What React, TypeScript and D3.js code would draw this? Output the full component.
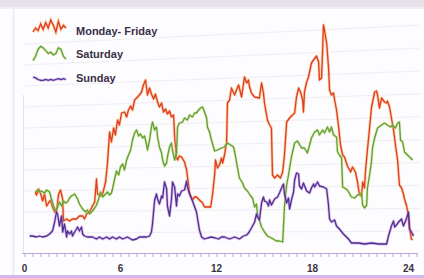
import React, { useEffect, useRef } from 'react';
import * as d3 from 'd3';

// [minutes after midnight, load]
const monFri: [number, number][] = [
  [41, 30.5], [45, 29], [53, 32], [60, 30], [68, 26], [75, 29.5], [83, 23.5], [90, 25], [98, 26.5], [105, 23],
  [113, 20.5], [120, 20.5], [128, 29.5], [135, 31.5], [143, 27], [146, 16], [158, 17], [169, 16], [180, 17], [195, 17],
  [206, 18.5], [218, 18.5], [225, 17], [233, 19.5], [244, 20.5], [255, 23.5], [263, 25.5], [270, 37], [274, 29.5], [285, 28.5],
  [293, 29.5], [304, 35.5], [311, 44.5], [319, 60.5], [326, 55.5], [334, 62.5], [341, 59], [349, 66.5], [356, 64], [364, 70],
  [375, 70.5], [383, 68], [390, 71.5], [398, 73.5], [405, 71.5], [413, 76.5], [424, 78], [431, 79], [439, 80.5], [446, 84],
  [454, 86.5], [461, 79], [469, 82.5], [476, 79.5], [484, 77], [491, 79.5], [499, 75.5], [506, 73], [514, 75], [521, 70.5],
  [529, 72], [536, 69.5], [544, 71], [551, 68], [559, 69], [563, 58], [570, 48], [574, 46.5], [581, 48.5], [589, 48],
  [600, 45.5], [608, 41.5], [619, 30], [630, 26.5], [638, 28], [645, 28], [656, 26.5], [668, 25], [675, 23], [686, 23],
  [698, 23], [705, 29], [713, 39], [716, 46.5], [724, 42.5], [731, 44], [739, 47.5], [743, 45], [750, 49], [758, 55.5],
  [761, 75], [769, 76.5], [776, 82.5], [788, 79], [795, 81.5], [803, 84], [814, 78], [825, 88], [833, 85], [840, 86.5],
  [844, 83], [851, 80], [863, 78], [881, 77.5], [889, 85], [896, 80], [900, 75], [911, 66.5], [919, 64], [926, 62.5],
  [930, 39], [938, 37.5], [949, 39], [960, 37.5], [968, 40.5], [975, 49], [983, 65.5], [994, 67.5], [1005, 69], [1013, 70],
  [1020, 78], [1028, 82.5], [1035, 80.5], [1043, 76.5], [1046, 70.5], [1050, 80.5], [1058, 85.5], [1065, 88], [1076, 95], [1084, 96.5],
  [1095, 98.5], [1103, 95.5], [1106, 86.5], [1114, 87.5], [1118, 101.5], [1121, 114], [1125, 111.5], [1133, 105], [1140, 93], [1144, 81.5],
  [1151, 79], [1159, 80], [1163, 76.5], [1170, 71.5], [1178, 63], [1185, 54], [1193, 49], [1200, 48], [1211, 43.5], [1223, 40.5],
  [1230, 43], [1241, 40.5], [1249, 35.5], [1256, 29], [1264, 28.5], [1268, 35.5], [1275, 32.5], [1279, 41.5], [1286, 51.5], [1294, 62.5],
  [1301, 72.5], [1313, 80.5], [1320, 81], [1324, 79], [1331, 72.5], [1339, 77.5], [1350, 75.5], [1358, 75], [1361, 76], [1369, 73],
  [1376, 67.5], [1384, 61.5], [1391, 54], [1399, 46.5], [1406, 34], [1414, 32.5], [1421, 29.5], [1425, 27], [1433, 23.5], [1440, 18.5],
  [1444, 12], [1451, 7], [1455, 6.5],
];

const saturday: [number, number][] = [
  [41, 30.5], [49, 31.5], [56, 30.5], [64, 31], [75, 30], [83, 31.5], [94, 30.5], [101, 27], [109, 23.5], [116, 21],
  [124, 23], [131, 25.5], [139, 23.5], [146, 26], [154, 25], [161, 25.5], [169, 27.5], [176, 28.5], [188, 29.5], [199, 27],
  [206, 24.5], [218, 22], [229, 20.5], [236, 21.5], [244, 19.5], [255, 21], [263, 22.5], [270, 24], [278, 27], [285, 30.5],
  [293, 28], [304, 29.5], [311, 30.5], [319, 29], [326, 30], [330, 32], [338, 37], [345, 41], [353, 39], [360, 43],
  [368, 44.5], [375, 41.5], [383, 46.5], [390, 49], [398, 51.5], [405, 56.5], [413, 60], [420, 61.5], [428, 58.5], [435, 59.5],
  [443, 57.5], [450, 58.5], [458, 54], [461, 51.5], [469, 56.5], [476, 63], [480, 65.5], [488, 61.5], [495, 63], [499, 58],
  [506, 53], [514, 50], [518, 46.5], [525, 43.5], [533, 45], [536, 48], [544, 53], [551, 55], [555, 51.5], [563, 46.5],
  [570, 50], [574, 63], [581, 65], [593, 65.5], [600, 67.5], [611, 66.5], [619, 69], [630, 68], [638, 70], [645, 70],
  [653, 71.5], [660, 72.5], [668, 73], [675, 70.5], [683, 67.5], [686, 63], [694, 60.5], [701, 56.5], [713, 51], [724, 51.5],
  [739, 52.5], [750, 53], [761, 55], [773, 54], [784, 53], [791, 48.5], [799, 42.5], [806, 37.5], [818, 35], [825, 32.5],
  [836, 31], [848, 28.5], [855, 27.5], [863, 23], [870, 24.5], [874, 19], [881, 16.5], [889, 13], [900, 10.5], [911, 8.5],
  [926, 7.5], [945, 6], [956, 6], [968, 5.5], [971, 12.5], [975, 23.5], [983, 34], [990, 39], [1001, 48], [1013, 55],
  [1024, 56], [1039, 52.5], [1050, 52.5], [1061, 50], [1069, 54], [1076, 57.5], [1088, 60.5], [1099, 61.5], [1106, 59], [1118, 61.5],
  [1125, 60], [1136, 63], [1144, 60.5], [1151, 63], [1159, 59], [1170, 58], [1174, 50.5], [1181, 49], [1189, 47.5], [1193, 33],
  [1200, 32.5], [1211, 31.5], [1226, 28], [1238, 27.5], [1249, 29], [1264, 30], [1268, 24], [1275, 22.5], [1283, 24], [1286, 32.5],
  [1294, 39], [1301, 45.5], [1305, 52.5], [1313, 57.5], [1324, 62.5], [1339, 64], [1350, 65], [1361, 64], [1373, 63], [1380, 64],
  [1391, 62.5], [1399, 65], [1406, 65.5], [1410, 56.5], [1418, 55.5], [1425, 50.5], [1436, 49], [1448, 47.5], [1455, 46.5],
];

const sunday: [number, number][] = [
  [19, 8.5], [30, 8.5], [45, 8], [56, 8.5], [68, 8], [83, 8.5], [94, 9.5], [105, 11], [113, 15.5], [120, 20.5],
  [124, 19.5], [131, 13.5], [139, 18.5], [143, 10.5], [150, 14.5], [158, 8], [161, 11], [169, 9.5], [176, 11], [180, 8.5],
  [188, 10.5], [195, 12], [199, 13], [206, 11], [214, 13], [218, 9.5], [225, 8.5], [236, 8], [255, 8], [270, 7],
  [281, 8], [293, 7], [308, 8], [319, 7], [330, 8], [345, 7], [356, 8], [368, 7], [386, 8], [405, 6.5],
  [420, 7], [431, 8], [443, 8], [458, 8], [469, 8.5], [476, 10.5], [480, 14.5], [488, 26.5], [495, 29.5], [499, 27],
  [506, 24.5], [514, 28.5], [518, 27.5], [525, 35.5], [533, 32], [536, 23.5], [544, 18.5], [551, 26.5], [555, 35.5], [563, 33],
  [570, 23.5], [574, 29.5], [581, 28.5], [589, 31], [600, 31.5], [608, 36], [611, 33], [619, 29.5], [630, 26], [645, 20.5],
  [656, 11.5], [664, 8], [675, 7], [686, 7.5], [701, 8], [716, 7.5], [728, 7], [739, 8], [750, 8], [769, 7],
  [788, 8], [806, 7], [821, 8.5], [833, 9], [840, 10], [851, 12.5], [863, 15.5], [870, 19.5], [874, 18], [881, 16.5],
  [889, 25], [896, 28], [900, 26], [908, 25.5], [915, 23.5], [919, 26.5], [926, 24], [938, 27], [949, 28], [956, 30],
  [964, 32.5], [971, 34.5], [975, 29.5], [983, 25], [990, 27.5], [994, 22], [1001, 26.5], [1009, 30.5], [1013, 36.5], [1020, 40],
  [1028, 39.5], [1031, 33.5], [1039, 32], [1046, 35], [1058, 31], [1069, 30], [1076, 32.5], [1084, 34.5], [1088, 33], [1099, 35.5],
  [1106, 33.5], [1121, 33], [1133, 32], [1140, 24], [1144, 17], [1151, 15.5], [1163, 16.5], [1170, 13.5], [1181, 12], [1196, 9.5],
  [1215, 7], [1226, 5], [1253, 5], [1275, 4.5], [1301, 5], [1328, 4.5], [1346, 4.5], [1358, 4.5], [1365, 8.5], [1376, 13.5],
  [1384, 16], [1388, 13], [1395, 14], [1403, 15.5], [1414, 17], [1421, 13.5], [1429, 16], [1433, 17.5], [1440, 20.5], [1444, 12],
  [1451, 10.5], [1459, 8.5],
];

const seriesNames = ['Monday- Friday', 'Saturday', 'Sunday'];
const seriesColors = ['#df3a28', '#5e9e38', '#4a3192'];
const haloColors = ['#f7a63c', '#c4dc6e', '#c47ad8'];

// legend glyphs: small squiggles, [step, level]
const legendGlyphs: [number, number][][] = [
  [[0, 3], [1, 6], [2, 4], [3, 9], [4, 5], [5, 10], [6, 6], [7, 12], [8, 8], [9, 3], [10, 11], [11, 5], [12, 8], [13, 6]],
  [[0, 1], [1, 4], [2, 9], [3, 11], [4, 10], [5, 8], [6, 6], [7, 7], [8, 5], [9, 6], [10, 10], [11, 9], [12, 4], [13, 2]],
  [[0, 6], [1, 5], [2, 3], [3, 2], [4, 2], [5, 3], [6, 2], [7, 3], [8, 2], [9, 3], [10, 4], [11, 3], [12, 4], [13, 3]],
];

const hourLabels = [0, 6, 12, 18, 24];

const W = 424;
const H = 278;

const App: React.FC = () => {
  const ref = useRef<SVGSVGElement>(null);

  useEffect(() => {
    const svg = d3.select(ref.current);
    svg.selectAll('*').remove();

    const x = d3.scaleLinear().domain([0, 1440]).range([24.5, 408.5]);
    const y = d3.scaleLinear().domain([0, 115]).range([253, 23]);

    // paper
    svg.append('rect').attr('width', W).attr('height', H).attr('fill', '#fdfcfe');
    svg.append('rect').attr('width', W).attr('height', 7).attr('fill', '#e4e1e8');
    svg.append('rect').attr('y', 7).attr('width', W).attr('height', 2).attr('fill', '#f0eef3');
    svg.append('line').attr('x1', 13.5).attr('x2', 13.5).attr('y1', 9).attr('y2', H)
      .attr('stroke', '#e9e6ed').attr('stroke-width', 1.5);
    svg.append('rect').attr('y', 275).attr('width', W).attr('height', 3).attr('fill', '#d2b7ee');

    // faint gridlines, slightly rising to the right like the scan
    const grid = d3.range(10, 110, 10.5);
    svg.append('g').selectAll('line').data(grid).enter().append('line')
      .attr('x1', 24).attr('x2', 420)
      .attr('y1', d => y(d))
      .attr('y2', d => y(d) - (253 - y(d)) * 0.09)
      .attr('stroke', '#f0eef4').attr('stroke-width', 1);

    svg.append('line').attr('x1', 23.5).attr('x2', 23.5).attr('y1', 95).attr('y2', 253)
      .attr('stroke', '#e6dfee').attr('stroke-width', 1);

    // lines
    const line = d3.line<[number, number]>().x(d => x(d[0])).y(d => y(d[1]));
    [monFri, saturday, sunday].forEach((s, i) => {
      svg.append('path').datum(s).attr('d', line).attr('fill', 'none')
        .attr('stroke', haloColors[i]).attr('stroke-width', 2.8).attr('stroke-opacity', 0.5)
        .attr('stroke-linejoin', 'round');
      svg.append('path').datum(s).attr('d', line).attr('fill', 'none')
        .attr('stroke', seriesColors[i]).attr('stroke-width', 1.3)
        .attr('stroke-linejoin', 'round');
    });

    // x axis
    const axis = d3.axisBottom(x)
      .tickValues(d3.range(0, 1471, 30))
      .tickSize(4)
      .tickSizeOuter(0)
      .tickFormat(() => '');
    const gx = svg.append('g').attr('transform', 'translate(0,253)').call(axis);
    gx.select('.domain').remove();
    gx.selectAll('.tick line').attr('stroke', '#b9a5d8');
    svg.append('line').attr('x1', 22).attr('x2', 418).attr('y1', 253.5).attr('y2', 253.5)
      .attr('stroke', '#b9a5d8').attr('stroke-width', 1.2);

    svg.append('g').selectAll('text').data(hourLabels).enter().append('text')
      .attr('x', d => x(d * 60))
      .attr('y', 272)
      .attr('text-anchor', 'middle')
      .attr('font-family', 'Liberation Sans, Arial, sans-serif')
      .attr('font-weight', 'bold')
      .attr('font-size', 10)
      .attr('fill', '#3b3540')
      .text(d => String(d));

    // legend
    const gx2 = d3.scaleLinear().domain([0, 13]).range([33, 66]);
    const legendTop = [20, 45, 72];
    const legendSpan = [16, 17, 10];
    legendGlyphs.forEach((g, i) => {
      const gy = d3.scaleLinear().domain([0, 12]).range([legendTop[i] + legendSpan[i], legendTop[i]]);
      const gl = d3.line<[number, number]>().x(d => gx2(d[0])).y(d => gy(d[1]));
      svg.append('path').datum(g).attr('d', gl).attr('fill', 'none')
        .attr('stroke', haloColors[i]).attr('stroke-width', 2.8).attr('stroke-opacity', 0.5);
      svg.append('path').datum(g).attr('d', gl).attr('fill', 'none')
        .attr('stroke', seriesColors[i]).attr('stroke-width', 1.3);
    });
    svg.append('g').selectAll('text').data(seriesNames).enter().append('text')
      .attr('x', 76)
      .attr('y', (_, i) => [35, 58, 82][i])
      .attr('font-family', 'Liberation Sans, Arial, sans-serif')
      .attr('font-weight', 'bold')
      .attr('font-size', 11)
      .attr('fill', '#3a2f48')
      .text(d => d);
  }, []);

  return (
    <div style={{ position: 'absolute', left: 0, top: 0 }}>
      <svg ref={ref} width={W} height={H} style={{ display: 'block' }} />
    </div>
  );
};

export default App;
